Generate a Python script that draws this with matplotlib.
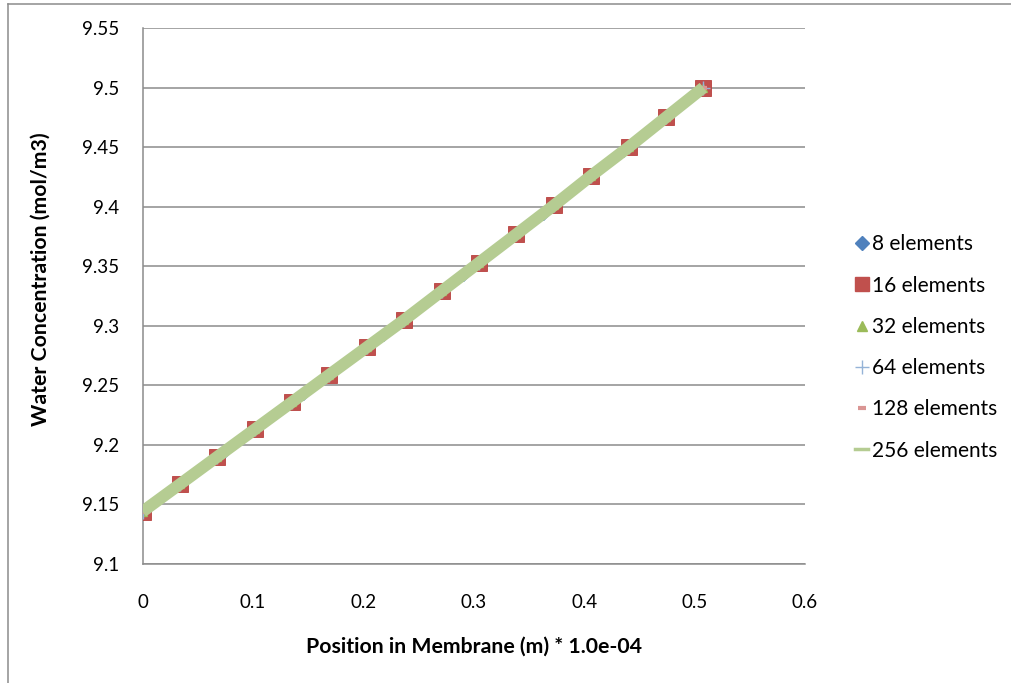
import matplotlib
matplotlib.use("Agg")
import matplotlib.pyplot as plt
from matplotlib.lines import Line2D

plt.rcParams['font.family'] = ['Lato', 'DejaVu Sans']

# ---- data ----
series_labels = ["8 elements", "16 elements", "32 elements",
                 "64 elements", "128 elements", "256 elements"]

x_8 = [0.0, 0.0726, 0.1451, 0.2177, 0.2903, 0.3629, 0.4354, 0.508]
y_8 = [9.144, 9.193, 9.243, 9.292, 9.343, 9.394, 9.447, 9.500]

x_16 = [0.0, 0.0339, 0.0677, 0.1016, 0.1355, 0.1693, 0.2032, 0.2371,
        0.2709, 0.3048, 0.3387, 0.3725, 0.4064, 0.4403, 0.4741, 0.508]
y_16 = [9.144, 9.167, 9.190, 9.213, 9.236, 9.259, 9.282, 9.305,
        9.329, 9.353, 9.377, 9.401, 9.426, 9.450, 9.475, 9.500]

# finer series: only the thick 256-element line is visible; the markers of
# 32/64/128 lie beneath it, so they are read along the same line
x_fine = [0.0, 0.0339, 0.0677, 0.1016, 0.1355, 0.1693, 0.2032, 0.2371,
          0.2709, 0.3048, 0.3387, 0.3725, 0.4064, 0.4403, 0.4741, 0.508]
y_fine = [9.144, 9.167, 9.190, 9.213, 9.236, 9.259, 9.282, 9.305,
          9.329, 9.353, 9.377, 9.401, 9.426, 9.450, 9.475, 9.500]

x_ticks = [0, 0.1, 0.2, 0.3, 0.4, 0.5, 0.6]
x_ticklabels = ["0", "0.1", "0.2", "0.3", "0.4", "0.5", "0.6"]
y_ticks = [9.1, 9.15, 9.2, 9.25, 9.3, 9.35, 9.4, 9.45, 9.5, 9.55]
y_ticklabels = ["9.1", "9.15", "9.2", "9.25", "9.3", "9.35", "9.4", "9.45", "9.5", "9.55"]

# ---- styles ----
c_blue = "#4F81BD"
c_red = "#C0504D"
c_green = "#9BBB59"
c_lblue = "#95B3D7"
c_pink = "#DA9694"
c_lgreen = "#B5CC92"
grid_c = "#8C8C8C"

W, H = 1011, 683
fig = plt.figure(figsize=(W / 100, H / 100), dpi=100)
L, R, T, B = 142.5, 805, 28, 564
ax = fig.add_axes([L / W, 1 - B / H, (R - L) / W, (B - T) / H])

ax.plot(x_8, y_8, linestyle='none', marker='D', markersize=6.5, color=c_blue, zorder=3)
ax.plot(x_16, y_16, linestyle='none', marker='s', markersize=11.5, color=c_red,
        markeredgecolor="#B8403D", markeredgewidth=0.6, zorder=4)
ax.plot(x_fine, y_fine, linestyle='none', marker='^', markersize=6, color=c_green, zorder=5)
ax.plot(x_fine, y_fine, linestyle='none', marker='+', markersize=10, markeredgewidth=1,
        color=c_lblue, zorder=6)
ax.plot(x_fine, y_fine, linestyle='none', marker='_', markersize=6, markeredgewidth=3,
        color=c_pink, zorder=7)
ax.plot(x_fine, y_fine, linestyle='-', linewidth=8.6, color=c_lgreen,
        solid_capstyle='butt', solid_joinstyle='round', zorder=8)

ax.set_xlim(0, 0.6)
ax.set_ylim(9.1, 9.55)
ax.set_xticks(x_ticks)
ax.set_xticklabels(x_ticklabels)
ax.set_yticks(y_ticks)
ax.set_yticklabels(y_ticklabels)
ax.tick_params(axis='both', length=0, labelsize=13.5, colors='black')
ax.tick_params(axis='x', pad=21.5)
ax.tick_params(axis='y', pad=16.5)

ax.grid(True, axis='y', color=grid_c, linewidth=1.1, zorder=0)
ax.set_axisbelow(True)
for s in ['top', 'right']:
    ax.spines[s].set_visible(False)
for s in ['left', 'bottom']:
    ax.spines[s].set_color(grid_c)
    ax.spines[s].set_linewidth(1.1)

ax.set_xlabel("Position in Membrane (m) * 1.0e-04", fontsize=15.3, fontweight='bold', va='center')
ax.xaxis.set_label_coords(0.5, (B - 647) / (B - T))
ax.set_ylabel("Water Concentration (mol/m3)", fontsize=15.3, fontweight='bold',
              va='center', ha='center')
ax.yaxis.set_label_coords((41 - L) / (R - L), (B - 279) / (B - T))

handles = [
    Line2D([], [], linestyle='none', marker='D', markersize=7.5, color=c_blue),
    Line2D([], [], linestyle='none', marker='s', markersize=10, color=c_red),
    Line2D([], [], linestyle='none', marker='^', markersize=7, color=c_green),
    Line2D([], [], linestyle='none', marker='+', markersize=10, markeredgewidth=1, color=c_lblue),
    Line2D([], [], linestyle='none', marker='_', markersize=6, markeredgewidth=3, color=c_pink),
    Line2D([], [], linestyle='-', linewidth=2.5, color=c_lgreen),
]
fig.legend(handles, series_labels, loc='center left',
           bbox_to_anchor=(855 / W, 1 - 347.5 / H), bbox_transform=fig.transFigure,
           frameon=False, fontsize=15, handlelength=0.63, handletextpad=0.2,
           labelspacing=1.02, borderpad=0, borderaxespad=0)

# chart frame (only left and top edges visible in the picture)
fig.add_artist(Line2D([8 / W, 8 / W], [0, 1 - 4 / H], transform=fig.transFigure,
                      color=grid_c, linewidth=1.1))
fig.add_artist(Line2D([8 / W, 1], [1 - 4 / H, 1 - 4 / H], transform=fig.transFigure,
                      color=grid_c, linewidth=1.1))

fig.savefig("out.png", dpi=100)
